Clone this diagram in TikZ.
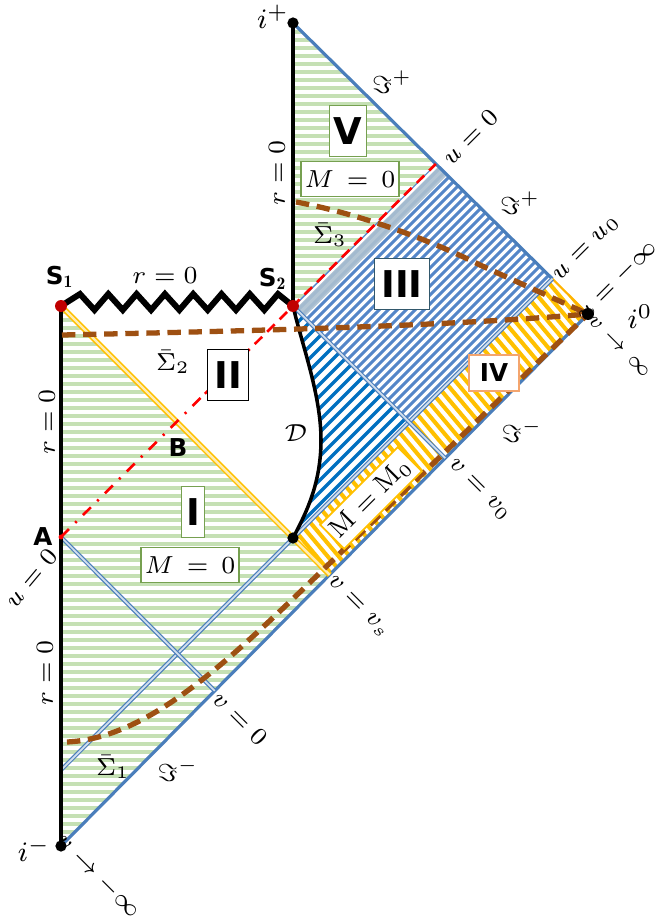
\documentclass[tikz,border=0pt]{standalone}
\usepackage{amsmath}
\usepackage{amssymb}
\usepackage{fontspec}
\newfontfamily\romfont{DejaVu Sans}
\usepackage{xcolor}
\definecolor{pdgreen}{RGB}{197,224,180}
\definecolor{pdblue}{RGB}{74,126,187}
\definecolor{pdstripe}{RGB}{84,134,200}
\definecolor{pddeep}{RGB}{0,112,192}
\definecolor{pdyellow}{RGB}{255,192,0}
\definecolor{pdbrown}{RGB}{158,80,18}
\definecolor{pdred}{RGB}{255,0,0}
\definecolor{pddark}{RGB}{192,0,0}
\definecolor{pdband}{RGB}{172,192,208}
\definecolor{pdolive}{RGB}{118,160,80}
\definecolor{pdslate}{RGB}{50,88,108}
\definecolor{pdorange}{RGB}{244,165,110}
\usepackage{tikz}
\usetikzlibrary{calc}

\tikzset{
  gstripe/.style={pdgreen, line width=1.3pt},
  bstripe/.style={pdstripe, line width=0.85pt},
  dstripe/.style={pddeep, line width=1.0pt},
  ystripe/.style={pdyellow, line width=1.15pt},
  scri/.style={pdblue, line width=0.9pt},
  nullline/.style={draw=pdblue, double=pdblue!25, double distance=0.5pt, line width=0.35pt},
  vsline/.style={draw=pdyellow, double=pdyellow!30, double distance=0.7pt, line width=0.45pt},
  axisline/.style={black, line width=1.4pt},
  sing/.style={black, line width=1.7pt, line join=miter},
  horizon/.style={black, line width=1.0pt},
  udashdot/.style={pdred, line width=0.75pt, dash pattern=on 3.2pt off 2.5pt on 0.6pt off 2.5pt},
  udash/.style={pdred, line width=0.75pt, dash pattern=on 3pt off 2pt},
  sigma/.style={pdbrown, line width=1.5pt, dash pattern=on 3.8pt off 2.2pt},
  band/.style={pdband, line width=3.4pt, opacity=0.9},
  lbl/.style={font=\fontsize{7.5}{9}\selectfont, inner sep=1pt},
  smlbl/.style={font=\fontsize{7}{8}\selectfont, inner sep=0.5pt},
  ilbl/.style={font=\fontsize{8}{9}\selectfont, inner sep=1pt},
  ptlbl/.style={font=\romfont\bfseries\fontsize{7}{8}\selectfont, inner sep=1pt},
  numbox/.style={draw, fill=white, line width=0.5pt, font=\romfont\bfseries\fontsize{10.5}{12}\selectfont,
    inner sep=1pt, minimum height=5.1mm},
  massbox/.style={draw=pdolive, fill=white, line width=0.5pt, font=\fontsize{7.5}{9}\selectfont,
    inner sep=1pt, minimum width=8.9mm, minimum height=3.5mm}
}

\begin{document}
\begin{tikzpicture}[x=0.01cm, y=-0.01cm]
  \useasboundingbox (0,0) rectangle (654,916);

  % corners of the diagram
  \coordinate (ip) at (293,23);
  \coordinate (im) at (61,846);
  \coordinate (io) at (588,314);
  \coordinate (S1) at (61,306);
  \coordinate (S2) at (293,306);
  \coordinate (A) at (61,537);
  \coordinate (uOA) at (61,770);
  \coordinate (D) at (293,538);
  % where the null lines meet
  \coordinate (scrpU0) at (intersection of A--S2 and ip--io);
  \coordinate (uOtop) at (intersection of uOA--D and ip--io);
  \coordinate (vsB) at (intersection of S1--D and im--io);
  \coordinate (v0aux) at ($(S2)+(100,100)$);
  \coordinate (v0B) at (intersection of S2--v0aux and im--io);
  \coordinate (X) at (intersection of S2--v0aux and uOA--D);
  \coordinate (vzaux) at ($(A)+(100,100)$);
  \coordinate (vzB) at (intersection of A--vzaux and im--io);
  \coordinate (uM) at ($(A)!0.62!(S2)$);

  % Regions I and V: flat space
  \begin{scope}
    \clip (S1) -- (im) -- (vsB) -- cycle (ip) -- (scrpU0) -- (S2) -- cycle;
    \foreach \y in {0,8,...,920} \draw[gstripe] (0,\y) -- (660,\y);
  \end{scope}

  % Region III
  \begin{scope}
    \clip (S2) -- (scrpU0) -- (uOtop) -- (X) -- cycle;
    \foreach \x in {-920,-911,...,660} \draw[bstripe] (\x,916) -- ++(916,-916);
    \draw[band] ($(S2)+(7,7)$) -- ($(S2)!1.2!(scrpU0)+(7,7)$);
  \end{scope}

  % wedge next to D
  \begin{scope}
    \clip (S2) -- (X) -- (D) .. controls (305,515) and (321,485) .. (321,440)
      .. controls (321,395) and (302,345) .. (S2);
    \foreach \x in {-920,-908,...,660} \draw[dstripe] (\x,916) -- ++(916,-916);
  \end{scope}

  % Region IV
  \begin{scope}
    \clip (D) -- (vsB) -- (io) -- (uOtop) -- cycle;
    \foreach \x in {-800,-789,...,660} \draw[ystripe] (\x,0) -- ++(770,916);
  \end{scope}

  % null infinity
  \draw[scri] (uOtop) -- (ip);
  \draw[pdyellow!80!orange, line width=0.6pt] (uOtop) -- (io);
  \draw[scri] (io) -- (im);

  % null rays
  \draw[nullline] (uOA) -- (uOtop);
  \draw[nullline] (S2) -- (v0B);
  \draw[nullline] (A) -- (vzB);
  \draw[vsline] (S1) -- (vsB);

  % r = 0 and singularity
  \draw[axisline] (S1) -- (im);
  \draw[black, line width=0.9pt] (S2) -- (ip);
  \draw[sing] (S1) \foreach \k in {0,...,6} { -- ({80+28.3*\k},294) -- ({94.5+28.3*\k},310) }
    -- (278,294) -- (S2);
  \draw[horizon] (S2) .. controls (302,345) and (321,395) .. (321,440)
    .. controls (321,485) and (305,515) .. (D);

  % u = 0
  \draw[udashdot] (A) -- (uM);
  \draw[udash] (uM) -- (scrpU0);

  % Cauchy surfaces
  \draw[sigma] (67,742) .. controls (150,738) and (230,660) .. (330,563) -- (io);
  \draw[sigma] (62,335) .. controls (250,331) and (450,326) .. (io);
  \draw[sigma] (296,202) .. controls (350,212) and (420,235) .. (480,265) -- (io);

  % points
  \fill (ip) circle (1.6pt);
  \fill (im) circle (1.6pt);
  \fill (io) circle (1.7pt);
  \fill (D) circle (1.6pt);
  \fill[pddark] (S1) circle (1.7pt);
  \fill[pddark] (S2) circle (1.7pt);
  \fill[pdred] (A) circle (0.7pt);

  % labels of points
  \node[ilbl] (lip) at (273,17) {$i^{+}$};
  \node[ilbl] (lim) at (34,850) {$i^{-}$};
  \node[ilbl] (lio) at (640,317) {$i^{0}$};
  \node[ptlbl] (lS1) at (60,277) {S$_{\mathbf 1}$};
  \node[ptlbl] (lS2) at (273,279) {S$_{\mathbf 2}$};
  \node[ptlbl] (lA) at (43,537) {A};
  \node[ptlbl] (lB) at (178,448) {B};

  % labels of lines
  \node[lbl] (lr1) at (165,276) {$r=0$};
  \node[lbl, rotate=90] (lr2) at (277,173) {$r=0$};
  \node[lbl, rotate=90] (lr3) at (47,422) {$r=0$};
  \node[lbl, rotate=90] (lr4) at (45,673) {$r=0$};
  \node[lbl, rotate=50] (lu0a) at (31,578) {$u=0$};
  \node[lbl, rotate=45] (lu0b) at (470,137) {$u=0$};
  \node[lbl, rotate=45] (luu0) at (587,249) {$u=u_0$};
  \node[smlbl, rotate=45] (lumi) at (617,281) {$u=-\infty$};
  \node[smlbl, rotate=-45, font=\fontsize{6.5}{8}\selectfont] (lvpi) at (619,347) {$v\to\infty$};
  \node[lbl, rotate=-45] (lvv0) at (479,490) {$v=v_0$};
  \node[lbl, rotate=-45] (lvvs) at (358,607) {$v=v_s$};
  \node[lbl, rotate=-45] (lvz) at (240,718) {$v=0$};
  \node[smlbl, rotate=-45] (lvmi) at (98,876) {$v\to-\infty$};
  \node[lbl] (lsp1) at (392,82) {$\Im^{+}$};
  \node[lbl] (lsp2) at (520,203) {$\Im^{+}$};
  \node[lbl] (lsm1) at (522,431) {$\Im^{-}$};
  \node[lbl] (lsm2) at (178,770) {$\Im^{-}$};
  \node[lbl] (lsig1) at (113,767) {$\bar\Sigma_1$};
  \node[lbl] (lsig2) at (173,362) {$\bar\Sigma_2$};
  \node[lbl] (lsig3) at (330,235) {$\bar\Sigma_3$};
  \node[lbl] (lD) at (296,433) {$\mathcal{D}$};

  % region boxes
  \node[numbox, draw=pdolive, minimum width=3.7mm] (bV) at (348,131) {V};
  \node[massbox] (mV) at (350,179) {$M\,=\,0$};
  \node[numbox, draw=pdslate, minimum width=5.5mm] (bIII) at (402,284) {III};
  \node[numbox, draw=black, minimum width=4.1mm] (bII) at (228,375) {II};
  \node[numbox, draw=pdolive, minimum width=2.3mm] (bI) at (193,512) {I};
  \node[massbox] (mI) at (190,565) {$M\,=\,0$};
  \node[numbox, draw=pdorange, minimum width=5mm, minimum height=3.6mm,
    font=\romfont\bfseries\fontsize{7}{8}\selectfont] (bIV) at (494,373) {IV};
  \node[massbox, draw=pdyellow, rotate=45, minimum width=10.5mm, minimum height=3.4mm]
    (mIV) at (371,498) {$\mathrm{M}=\mathrm{M}_0$};
\end{tikzpicture}
\end{document}
